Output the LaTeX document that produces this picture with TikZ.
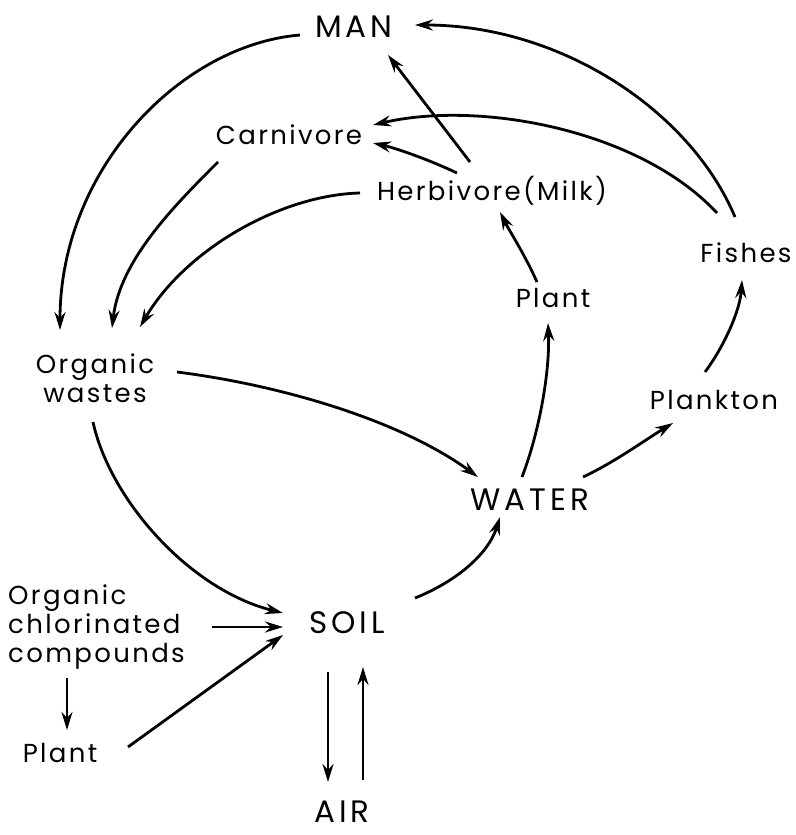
\documentclass[tikz,border=0pt]{standalone}
\usepackage{fontspec}
\setmainfont{Poppins}
\newfontfamily\lblfont[LetterSpace=9]{Poppins}
\newfontfamily\bigfont[LetterSpace=13]{Poppins}
\usetikzlibrary{arrows.meta}
\tikzset{
  lbl/.style={inner sep=0pt, font=\lblfont\fontsize{26}{30}\selectfont, text height=19pt, text depth=0pt},
  biglbl/.style={inner sep=0pt, font=\bigfont\fontsize{31}{36}\selectfont, text height=22pt, text depth=0pt},
  multilbl/.style={inner sep=0pt, font=\lblfont\fontsize{26}{29}\selectfont},
  flow/.style={draw, line width=2.8pt, -{Stealth[length=18pt,width=11pt,inset=6pt]}}
}
\begin{document}
\begin{tikzpicture}[x=1pt,y=-1pt]
\useasboundingbox (0,0) rectangle (795,835);
% nodes
\node[biglbl] (man) at (354,26) {MAN};
\node[lbl] (carn) at (289,135) {Carnivore};
\node[lbl] (herb) at (492,191) {Herbivore(Milk)};
\node[lbl] (fish) at (746,253) {Fishes};
\node[lbl] (plantU) at (553,298) {Plant};
\node[multilbl, align=center, anchor=north] (wastes) at (95,354) {Organic\\wastes};
\node[lbl] (plank) at (714,400) {Plankton};
\node[biglbl] (water) at (530,499) {WATER};
\node[biglbl] (soil) at (347,622) {SOIL};
\node[multilbl, align=left, anchor=north west] (occ) at (8,585) {Organic\\chlorinated\\compounds};
\node[lbl] (plantL) at (60,753) {Plant};
\node[biglbl] (air) at (342,811) {AIR};
% connectors
\draw[flow] ([shift={(-54,9)}]man.center) .. controls (180,45) and (60,170) .. ([shift={(-35,-24)}]wastes.north);
\draw[flow] ([shift={(-71,27)}]carn.center) .. controls (175,205) and (120,260) .. ([shift={(17,-26)}]wastes.north);
\draw[flow] ([shift={(-132,2)}]herb.center) .. controls (280,195) and (185,250) .. ([shift={(45,-27)}]wastes.north);
\draw[flow] ([shift={(-22,-29)}]herb.center) -- ([shift={(34,29)}]man.center);
\draw[flow] ([shift={(-35,-18)}]herb.center) .. controls (425,158) and (395,148) .. ([shift={(84,8)}]carn.center);
\draw[flow] ([shift={(-29,-40)}]fish.center) .. controls (640,130) and (480,100) .. ([shift={(84,-10)}]carn.center);
\draw[flow] ([shift={(-11,-36)}]fish.center) .. controls (690,110) and (560,25) .. ([shift={(61,-1)}]man.center);
\draw[flow] ([shift={(-16,-16)}]plantU.center) .. controls (525,255) and (510,232) .. ([shift={(8,21)}]herb.center);
\draw[flow] ([shift={(-9,-28)}]plank.center) .. controls (725,345) and (740,310) .. ([shift={(-4,27)}]fish.center);
\draw[flow] ([shift={(53,-22)}]water.center) .. controls (615,462) and (645,440) .. ([shift={(-41,23)}]plank.center);
\draw[flow] ([shift={(-8,-22)}]water.center) .. controls (540,430) and (550,370) .. ([shift={(-5,25)}]plantU.center);
\draw[flow] ([shift={(82,18)}]wastes.north) .. controls (280,385) and (400,420) .. ([shift={(-52,-22)}]water.center);
\draw[flow] ([shift={(-2,68)}]wastes.north) .. controls (110,500) and (190,590) .. ([shift={(-64,-9)}]soil.center);
\draw[flow] ([shift={(204,42)}]occ.north west) -- ([shift={(-64,5)}]soil.center);
\draw[flow] ([shift={(59,93)}]occ.north west) -- ([shift={(7,-23)}]plantL.center);
\draw[flow] ([shift={(68,-6)}]plantL.center) -- ([shift={(-64,13)}]soil.center);
\draw[flow] ([shift={(68,-24)}]soil.center) .. controls (455,582) and (488,555) .. ([shift={(-30,18)}]water.center);
\draw[flow] ([shift={(-19,50)}]soil.center) -- ([shift={(-14,-29)}]air.center);
\draw[flow] ([shift={(21,-31)}]air.center) -- ([shift={(16,45)}]soil.center);
\end{tikzpicture}
\end{document}
